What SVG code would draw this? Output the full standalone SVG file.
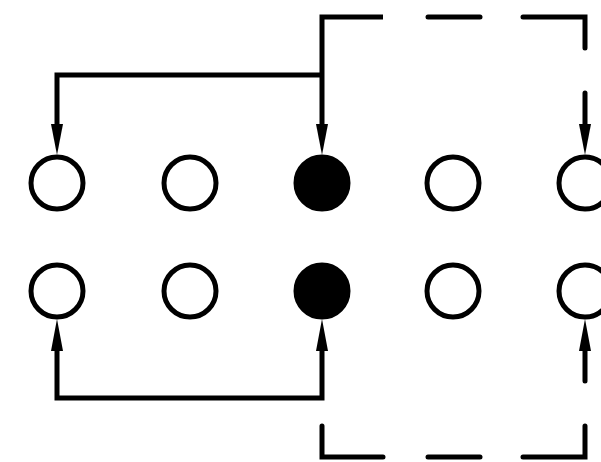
<svg xmlns="http://www.w3.org/2000/svg" width="601" height="462" viewBox="0 0 601 462">
<style>
.c{fill:#fff;stroke:#000;stroke-width:5}
.f{fill:#000;stroke:#000;stroke-width:5}
.w{fill:none;stroke:#000;stroke-width:5;stroke-linejoin:miter;stroke-linecap:butt}
.d{fill:none;stroke:#000;stroke-width:5;stroke-linejoin:miter;stroke-linecap:round}
.a{fill:#000}
</style>
<rect width="601" height="462" fill="#fff"/>
<g id="connectors">
<path class="w" d="M322,130 V17 H383"/>
<path class="w" d="M57,130 V75 H322"/>
<path class="d" d="M428,17 H480"/>
<path class="d" d="M523,17 H585 V48"/>
<path class="d" d="M585,93 V130"/>
<polygon class="a" points="57,155 51,124 63,124"/>
<polygon class="a" points="322,155 316,124 328,124"/>
<polygon class="a" points="585,155 579,124 591,124"/>
<path class="w" d="M57,345 V398 H322 V345"/>
<path class="d" d="M585,345 V381"/>
<path class="d" d="M322,426 V457 H383"/>
<path class="d" d="M428,457 H480"/>
<path class="d" d="M523,457 H585 V426"/>
<polygon class="a" points="57,319 51,351 63,351"/>
<polygon class="a" points="322,319 316,351 328,351"/>
<polygon class="a" points="585,319 579,351 591,351"/>
</g>
<g id="n1"><circle class="c" cx="57" cy="183" r="26"/></g>
<g id="n2"><circle class="c" cx="190" cy="183" r="26"/></g>
<g id="n3"><circle class="f" cx="322" cy="183" r="26"/></g>
<g id="n4"><circle class="c" cx="453" cy="183" r="26"/></g>
<g id="n5"><circle class="c" cx="585" cy="183" r="26"/></g>
<g id="n6"><circle class="c" cx="57" cy="291" r="26"/></g>
<g id="n7"><circle class="c" cx="190" cy="291" r="26"/></g>
<g id="n8"><circle class="f" cx="322" cy="291" r="26"/></g>
<g id="n9"><circle class="c" cx="453" cy="291" r="26"/></g>
<g id="n10"><circle class="c" cx="585" cy="291" r="26"/></g>
</svg>
